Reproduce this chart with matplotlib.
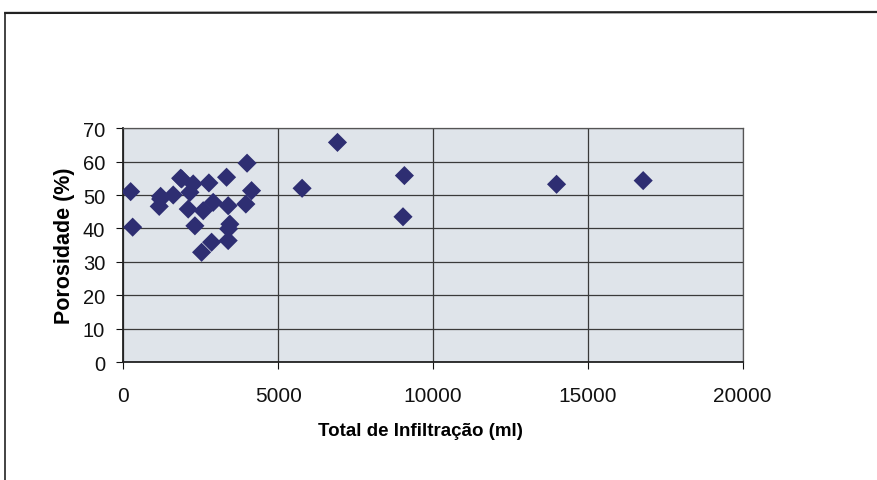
import numpy as np
import matplotlib.pyplot as plt
from matplotlib.lines import Line2D

# Infiltração total (ml) x porosidade (%)
infiltracao = [238, 303, 1161, 1206, 1206, 1613, 1852, 1884, 2152, 2258,
               2097, 2581, 2313, 2529, 2765, 2903, 2852, 3335, 3387, 3442,
               3400, 3387, 3958, 3997, 4142, 5774, 6916, 9077, 9032, 13990,
               16787]
porosidade = [51.0, 40.4, 46.6, 48.8, 49.6, 50.0, 55.0, 54.8, 50.8, 53.3,
              45.8, 45.3, 40.8, 32.9, 53.6, 47.8, 35.9, 55.3, 46.8, 41.3,
              39.9, 36.4, 47.3, 59.5, 51.3, 52.0, 65.7, 55.8, 43.5, 53.2,
              54.3]

xticks = [0, 5000, 10000, 15000, 20000]
yticks = [0, 10, 20, 30, 40, 50, 60, 70]

plt.rcParams['font.family'] = ['Liberation Sans', 'DejaVu Sans']

fig = plt.figure(figsize=(8.78, 4.81), dpi=100)
fig.patch.set_facecolor('white')

# moldura externa do gráfico
fig.add_artist(Line2D([0.006, 0.006], [0.0, 0.971], color='#222222', lw=1.2,
                      transform=fig.transFigure))
fig.add_artist(Line2D([0.006, 1.0], [0.971, 0.973], color='#222222', lw=1.6,
                      transform=fig.transFigure))

ax = fig.add_axes([0.1404, 0.2443, 0.7055, 0.4875])
ax.set_facecolor('#dfe4ea')

ax.scatter(infiltracao, porosidade, marker='D', s=95, color='#2e2e72',
           edgecolors='none', zorder=3)

ax.set_xlim(0, 20000)
ax.set_ylim(0, 70)
ax.set_xticks(xticks)
ax.set_yticks(yticks)
ax.grid(True, color='#3a3a3a', lw=0.9)
ax.set_axisbelow(True)

for s in ax.spines.values():
    s.set_color('#555555')
    s.set_linewidth(0.9)
ax.spines['left'].set_color('#222222')
ax.spines['bottom'].set_color('#222222')
ax.spines['left'].set_linewidth(1.3)
ax.spines['bottom'].set_linewidth(1.3)

ax.tick_params(axis='x', direction='out', length=5, pad=12, labelsize=15,
               colors='#111111')
ax.tick_params(axis='y', direction='out', length=5, pad=8, labelsize=14.5,
               colors='#111111')

ax.set_xlabel('Total de Infiltração (ml)', fontsize=13.5, fontweight='bold',
              labelpad=12)
ax.xaxis.label.set_x(0.48)
ax.set_ylabel('Porosidade (%)', fontsize=15.5, fontweight='bold', labelpad=6)

fig.savefig('out.png', dpi=100)
